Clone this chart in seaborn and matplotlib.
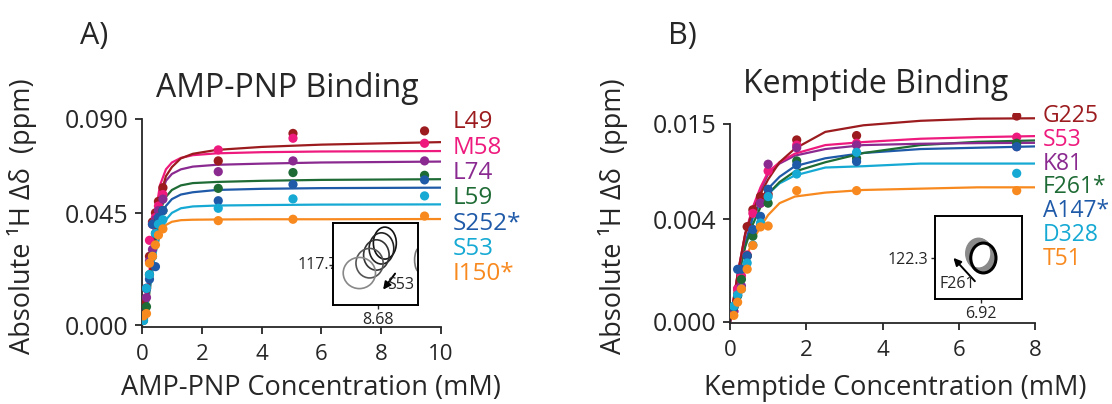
import numpy as np
import pandas as pd
import matplotlib
matplotlib.use("Agg")
import matplotlib.pyplot as plt
import seaborn as sns
from matplotlib.patches import Ellipse

sns.set_style("ticks")
plt.rcParams["font.family"] = ["Open Sans", "DejaVu Sans"]

# ---------------- data: panel A (AMP-PNP) ----------------
amp_names = ["L49", "M58", "L74", "L59", "S252*", "S53", "I150*"]
amp_colors = ["#9b1b1e", "#ee1a7d", "#8a2a90", "#1e6b35", "#1f5aa8", "#15a9d3", "#f8891f"]
amp_x = [0.05, 0.15, 0.25, 0.35, 0.45, 0.55, 0.7, 2.55, 5.05, 9.45]
amp_L49 = [0.011, 0.016, 0.030, 0.045, 0.049, 0.054, 0.060, 0.0717, 0.0837, 0.0848]
amp_M58 = [0.004, 0.016, 0.037, 0.044, 0.047, 0.052, 0.057, 0.0765, 0.0816, 0.0794]
amp_L74 = [0.003, 0.012, 0.028, 0.033, 0.046, 0.050, 0.055, 0.0670, 0.0717, 0.0717]
amp_L59 = [0.002, 0.008, 0.022, 0.030, 0.040, 0.046, 0.050, 0.0597, 0.0666, 0.0654]
amp_S252 = [0.003, 0.016, 0.020, 0.044, 0.0255, 0.047, 0.050, 0.0543, 0.0614, 0.0634]
amp_S53 = [0.002, 0.016, 0.022, 0.030, 0.040, 0.044, 0.046, 0.0510, 0.0551, 0.0564]
amp_I150 = [0.004, 0.005, 0.027, 0.030, 0.035, 0.0393, 0.042, 0.0456, 0.0462, 0.0476]

amp_fit_x = [0, 0.2, 0.4, 0.6, 0.8, 1.0, 1.3, 1.7, 2.5, 4, 6, 10]
amp_fit_L49 = [0, 0.014, 0.040, 0.056, 0.065, 0.069, 0.0728, 0.0748, 0.0765, 0.0778, 0.0788, 0.0799]
amp_fit_M58 = [0, 0.017, 0.044, 0.061, 0.068, 0.071, 0.0730, 0.0742, 0.0750, 0.0755, 0.0758, 0.0760]
amp_fit_L74 = [0, 0.015, 0.039, 0.055, 0.063, 0.066, 0.0680, 0.0692, 0.0700, 0.0705, 0.0710, 0.0714]
amp_fit_L59 = [0, 0.013, 0.035, 0.050, 0.056, 0.059, 0.0610, 0.0620, 0.0625, 0.0630, 0.0634, 0.0637]
amp_fit_S252 = [0, 0.012, 0.033, 0.046, 0.052, 0.055, 0.0570, 0.0580, 0.0590, 0.0595, 0.0598, 0.0600]
amp_fit_S53 = [0, 0.010, 0.028, 0.040, 0.046, 0.049, 0.0510, 0.0518, 0.0522, 0.0524, 0.0526, 0.0527]
amp_fit_I150 = [0, 0.009, 0.0298, 0.0393, 0.0437, 0.0451, 0.0458, 0.0460, 0.0461, 0.0462, 0.0462, 0.0463]

# ---------------- data: panel B (Kemptide) ----------------
kem_names = ["G225", "S53", "K81", "F261*", "A147*", "D328", "T51"]
kem_colors = amp_colors
kem_x = [0.1, 0.2, 0.3, 0.45, 0.6, 0.8, 1.0, 1.75, 3.32, 7.52]
kem_G225 = [0.00115, 0.0025, 0.0040, 0.00722, 0.0085, 0.0095, 0.00967, 0.01379, 0.01412, 0.0156]
kem_S53 = [0.0008, 0.0025, 0.0035, 0.00508, 0.00823, 0.0090, 0.01144, 0.0134, 0.01354, 0.0140]
kem_K81 = [0.0008, 0.0020, 0.00273, 0.0050, 0.0070, 0.0090, 0.01195, 0.0132, 0.0134, 0.01328]
kem_F261 = [0.0011, 0.0020, 0.00323, 0.0050, 0.0065, 0.0074, 0.0090, 0.0122, 0.0124, 0.01354]
kem_A147 = [0.00114, 0.00399, 0.0040, 0.0050, 0.0070, 0.0080, 0.01005, 0.01189, 0.01215, 0.01328]
kem_D328 = [0.0012, 0.00205, 0.0025, 0.00447, 0.00583, 0.0075, 0.0095, 0.01121, 0.01285, 0.01126]
kem_T51 = [0.0005, 0.0015, 0.0025, 0.0040, 0.0058, 0.0072, 0.00727, 0.00995, 0.00995, 0.00995]

kem_fit_x = [0, 0.2, 0.4, 0.6, 0.8, 1.0, 1.3, 1.7, 2.5, 3.5, 5, 6.5, 8]
kem_fit_G225 = [0, 0.0036, 0.0067, 0.0084, 0.0097, 0.0108, 0.0121, 0.01313, 0.0144, 0.0149, 0.01524, 0.0154, 0.01543]
kem_fit_S53 = [0, 0.0036, 0.0067, 0.0087, 0.0102, 0.01136, 0.0121, 0.01275, 0.0134, 0.01363, 0.01388, 0.0140, 0.01408]
kem_fit_K81 = [0, 0.0035, 0.0066, 0.0086, 0.0100, 0.0112, 0.0120, 0.0126, 0.0131, 0.0134, 0.0135, 0.01355, 0.01357]
kem_fit_F261 = [0, 0.0032, 0.0057, 0.0074, 0.0087, 0.0097, 0.0106, 0.0114, 0.0121, 0.0128, 0.0134, 0.01365, 0.01375]
kem_fit_A147 = [0, 0.0032, 0.0059, 0.0080, 0.0092, 0.0101, 0.0110, 0.0118, 0.0124, 0.0128, 0.0131, 0.0132, 0.0133]
kem_fit_D328 = [0, 0.0032, 0.0059, 0.0079, 0.0090, 0.0097, 0.0105, 0.0111, 0.0117, 0.0118, 0.0120, 0.0120, 0.0120]
kem_fit_T51 = [0, 0.0024, 0.0047, 0.0062, 0.0072, 0.0081, 0.0090, 0.0095, 0.0098, 0.0100, 0.0101, 0.0102, 0.0102]

amp_pts = [amp_L49, amp_M58, amp_L74, amp_L59, amp_S252, amp_S53, amp_I150]
amp_fits = [amp_fit_L49, amp_fit_M58, amp_fit_L74, amp_fit_L59, amp_fit_S252, amp_fit_S53, amp_fit_I150]
kem_pts = [kem_G225, kem_S53, kem_K81, kem_F261, kem_A147, kem_D328, kem_T51]
kem_fits = [kem_fit_G225, kem_fit_S53, kem_fit_K81, kem_fit_F261, kem_fit_A147, kem_fit_D328, kem_fit_T51]


def long_df(names, xs, ys_list):
    rows = []
    for n, ys in zip(names, ys_list):
        for x, y in zip(xs, ys):
            rows.append((n, x, y))
    return pd.DataFrame(rows, columns=["res", "x", "y"])


W, H = 1112, 404
fig = plt.figure(figsize=(W / 100, H / 100), dpi=100)


def px_axes(x0, x1, ytop, ybot):
    return fig.add_axes([x0 / W, 1 - ybot / H, (x1 - x0) / W, (ybot - ytop) / H])


def draw_panel(ax, names, colors, xs, pts, fit_x, fits, xlim, ylim, yticks, yticklabels, xticks):
    pal = dict(zip(names, colors))
    dfl = long_df(names, fit_x, fits)
    dfp = long_df(names, xs, pts)
    sns.lineplot(data=dfl, x="x", y="y", hue="res", palette=pal, hue_order=names[::-1],
                 estimator=None, sort=False, lw=1.6, legend=False, ax=ax)
    sns.scatterplot(data=dfp, x="x", y="y", hue="res", palette=pal, hue_order=names[::-1],
                    s=44, linewidth=0, legend=False, ax=ax, zorder=3)
    ax.set_xlim(*xlim)
    ax.set_ylim(*ylim)
    ax.set_xticks(xticks)
    ax.set_xticklabels([str(t) for t in xticks])
    ax.set_yticks(yticks)
    ax.set_yticklabels(yticklabels)
    ax.set_xlabel("")
    ax.set_ylabel("")
    for s in ["top", "right"]:
        ax.spines[s].set_visible(False)
    for s in ["left", "bottom"]:
        ax.spines[s].set_linewidth(1.3)
    ax.spines["left"].set_bounds(ylim[0], yticks[-1])
    ax.tick_params(direction="out", length=5, width=1.3, pad=5)
    ax.tick_params(axis="y", labelsize=18)
    ax.tick_params(axis="x", labelsize=16, pad=7)
    ax.patch.set_alpha(0)


axA = px_axes(142, 441, 119, 327.3)
draw_panel(axA, amp_names, amp_colors, amp_x, amp_pts, amp_fit_x, amp_fits,
           (0, 10), (-0.001, 0.090), [0, 0.0489, 0.090], ["0.000", "0.045", "0.090"],
           [0, 2, 4, 6, 8, 10])

axB = px_axes(730, 1035, 113.4, 323.3)
draw_panel(axB, kem_names, kem_colors, kem_x, kem_pts, kem_fit_x, kem_fits,
           (0, 8), (-0.0001, 0.0158), [0, 0.0078, 0.015], ["0.000", "0.004", "0.015"],
           [0, 2, 4, 6, 8])

# titles, panel letters, axis labels
fig.text(287 / W, 1 - 97 / H, "AMP-PNP Binding", ha="center", va="baseline", fontsize=23)
fig.text(876 / W, 1 - 93 / H, "Kemptide Binding", ha="center", va="baseline", fontsize=23)
fig.text(80 / W, 1 - 44 / H, "A)", ha="left", va="baseline", fontsize=22)
fig.text(668 / W, 1 - 44 / H, "B)", ha="left", va="baseline", fontsize=22)
ylab = "Absolute \u00b9H \u0394\u03b4  (ppm)"
fig.text(22 / W, 1 - 216 / H, ylab, rotation=90, ha="center", va="center", fontsize=19.5)
fig.text(613 / W, 1 - 216 / H, ylab, rotation=90, ha="center", va="center", fontsize=19.5)
fig.text(311 / W, 1 - 395 / H, "AMP-PNP Concentration (mM)", ha="center", va="baseline", fontsize=19.5)
fig.text(895 / W, 1 - 395 / H, "Kemptide Concentration (mM)", ha="center", va="baseline", fontsize=19.5)

# residue labels
for i, (n, c) in enumerate(zip(amp_names, amp_colors)):
    yc = 122.5 + i * 25.3
    fig.text(453 / W, 1 - yc / H, n, color=c, ha="left", va="center", fontsize=17.5)
for i, (n, c) in enumerate(zip(kem_names, kem_colors)):
    yc = 116 + i * 23.8
    fig.text(1043 / W, 1 - yc / H, n, color=c, ha="left", va="center", fontsize=16.5)


# insets (spectra)
def inset(ax_parent, x0, x1, ytop, ybot):
    p = ax_parent.get_position()
    fx0, fy0 = x0 / W, 1 - ybot / H
    fw, fh = (x1 - x0) / W, (ybot - ytop) / H
    rect = [(fx0 - p.x0) / p.width, (fy0 - p.y0) / p.height, fw / p.width, fh / p.height]
    ia = ax_parent.inset_axes(rect)
    ia.set_xlim(0, 1)
    ia.set_ylim(0, 1)
    ia.set_facecolor("white")
    for s in ia.spines.values():
        s.set_linewidth(1.4)
        s.set_color("black")
    return ia


iaA = inset(axA, 333, 418, 223, 305)
ellA = [(0.61, 0.755, 0.27, 0.39, "#111111"), (0.57, 0.69, 0.29, 0.38, "#222222"),
        (0.51, 0.61, 0.30, 0.37, "#333333"), (0.43, 0.51, 0.32, 0.36, "#555555"),
        (0.31, 0.39, 0.38, 0.38, "#888888"), (1.02, 0.55, 0.12, 0.30, "#777777")]
for (cx, cy, w, h, col) in ellA:
    e = Ellipse((cx, cy), w, h, fill=False, ec=col, lw=1.2, clip_on=True)
    iaA.add_patch(e)
iaA.annotate("", xy=(0.57, 0.16), xytext=(0.75, 0.41),
             arrowprops=dict(arrowstyle="-|>", color="black", lw=1.4, mutation_scale=11))
iaA.text(0.64, 0.24, "S53", fontsize=11.5, ha="left", va="center")
iaA.set_xticks([0.53])
iaA.set_xticklabels(["8.68"])
iaA.set_yticks([0.49])
iaA.set_yticklabels([""])
iaA.tick_params(length=3, width=1, labelsize=11.5, pad=2)
axA.text(338 / W, 1 - 265 / H, "117.7", transform=fig.transFigure, fontsize=11.5,
         ha="right", va="center", zorder=1, clip_on=False)

iaB = inset(axB, 935, 1022, 216, 299)
for k in range(9):
    cx = 0.50 + 0.007 * k
    cy = 0.55 - 0.007 * k
    col = "#8a8a8a" if k < 8 else "black"
    e = Ellipse((cx, cy), 0.29, 0.36, fill=False, ec=col, lw=1.2 if k < 8 else 2.2)
    iaB.add_patch(e)
iaB.annotate("", xy=(0.19, 0.52), xytext=(0.48, 0.19),
             arrowprops=dict(arrowstyle="-|>", color="black", lw=1.4, mutation_scale=11))
iaB.text(0.05, 0.18, "F261", fontsize=11.5, ha="left", va="center")
iaB.set_xticks([0.53])
iaB.set_xticklabels(["6.92"])
iaB.set_yticks([0.5])
iaB.set_yticklabels(["122.3"])
iaB.tick_params(length=3, width=1, labelsize=11.5, pad=2)

fig.savefig("out.png", dpi=100)
